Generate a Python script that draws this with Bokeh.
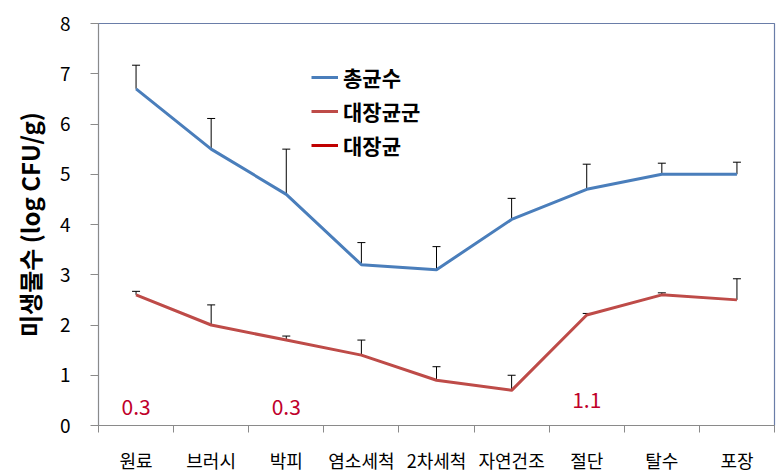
from bokeh.plotting import figure
from bokeh.models import (Range1d, FixedTicker, Whisker, TeeHead, ColumnDataSource,
                          Legend, LegendItem)
from bokeh.core.properties import value
from bokeh.embed import file_html
from bokeh.resources import INLINE

categories = ["원료", "브러시", "박피", "염소세척", "2차세척", "자연건조", "절단", "탈수", "포장"]
total_count = [6.7, 5.5, 4.6, 3.2, 3.1, 4.1, 4.7, 5.0, 5.0]
total_err = [0.47, 0.61, 0.9, 0.44, 0.46, 0.42, 0.5, 0.22, 0.24]
coliform = [2.6, 2.0, 1.7, 1.4, 0.9, 0.7, 2.2, 2.6, 2.5]
coliform_err = [0.07, 0.4, 0.08, 0.3, 0.27, 0.3, 0.03, 0.04, 0.42]
ecoli = [float("nan")] * 9
ecoli_notes = ["0.3", "0.3", "1.1"]
ecoli_note_idx = [0, 2, 6]
ecoli_note_y = [0.36, 0.36, 0.5]
y_ticks = [0, 1, 2, 3, 4, 5, 6, 7, 8]

BLUE = "#4A7EBB"
RED = "#BE4B48"
DARKRED = "#C00000"
NOTE = "#C0002A"
FONT = "Noto Sans CJK KR"

n = len(categories)
xs = [i + 0.5 for i in range(n)]

p = figure(width=783, height=475, output_backend="svg", toolbar_location=None,
           x_range=Range1d(0, n), y_range=Range1d(0, 8),
           min_border_left=98, min_border_right=9, min_border_top=23, min_border_bottom=49)
p.background_fill_color = "white"
p.border_fill_color = "white"
p.outline_line_color = "#6A7DA8"
p.outline_line_width = 1.2
p.xgrid.visible = False
p.ygrid.visible = False

# x axis: labels at centres, tick marks at boundaries (minor ticks)
p.xaxis.ticker = FixedTicker(ticks=xs, minor_ticks=list(range(n + 1)))
p.xaxis.major_label_overrides = {x: c for x, c in zip(xs, categories)}
p.xaxis.major_tick_out = 0
p.xaxis.major_tick_in = 0
p.xaxis.minor_tick_out = 7
p.xaxis.minor_tick_in = 0
p.xaxis.minor_tick_line_color = "#8A8A8A"
p.xaxis.axis_line_color = "#8A8A8A"
p.xaxis.major_label_text_font = FONT
p.xaxis.major_label_text_font_size = "18px"
p.xaxis.major_label_text_color = "black"
p.xaxis.major_label_standoff = 14

p.yaxis.ticker = FixedTicker(ticks=y_ticks, minor_ticks=[])
p.yaxis.major_tick_out = 8
p.yaxis.major_tick_in = 0
p.yaxis.major_tick_line_color = "#8A8A8A"
p.yaxis.axis_line_color = "#8A8A8A"
p.yaxis.major_label_text_font = FONT
p.yaxis.major_label_text_font_size = "19px"
p.yaxis.major_label_text_color = "black"
p.yaxis.major_label_standoff = 20
p.yaxis.axis_label = "미생물수 (log CFU/g)"
p.yaxis.axis_label_text_font = FONT
p.yaxis.axis_label_text_font_style = "bold"
p.yaxis.axis_label_text_font_size = "24px"
p.yaxis.axis_label_text_color = "black"
p.yaxis.axis_label_standoff = 10

src = ColumnDataSource(dict(
    x=xs, total=total_count, total_up=[v + e for v, e in zip(total_count, total_err)],
    coli=coliform, coli_up=[v + e for v, e in zip(coliform, coliform_err)],
    ecoli=ecoli))

r1 = p.line("x", "total", source=src, line_color=BLUE, line_width=3)
r2 = p.line("x", "coli", source=src, line_color=RED, line_width=3)
r3 = p.line("x", "ecoli", source=src, line_color=DARKRED, line_width=3)

for up, base in (("total_up", "total"), ("coli_up", "coli")):
    w = Whisker(source=src, base="x", lower=base, upper=up, dimension="height",
                line_color="black", line_width=1,
                upper_head=TeeHead(size=8, line_color="black", line_width=1),
                lower_head=None)
    p.add_layout(w)

p.text(x=[xs[i] for i in ecoli_note_idx], y=ecoli_note_y, text=ecoli_notes,
       text_font=value(FONT), text_font_size="21px", text_color=NOTE,
       text_align="center", text_baseline="middle")

legend = Legend(items=[LegendItem(label="총균수", renderers=[r1]),
                       LegendItem(label="대장균군", renderers=[r2]),
                       LegendItem(label="대장균", renderers=[r3])],
                location=(213, 265), orientation="vertical",
                label_text_font=FONT, label_text_font_size="21px",
                label_text_font_style="bold", label_text_color="black",
                glyph_width=27, glyph_height=20, label_height=20, spacing=4,
                label_standoff=5, padding=0, margin=0,
                border_line_color=None, background_fill_alpha=0)
p.add_layout(legend)

open("out.html", "w").write(file_html(p, INLINE))
